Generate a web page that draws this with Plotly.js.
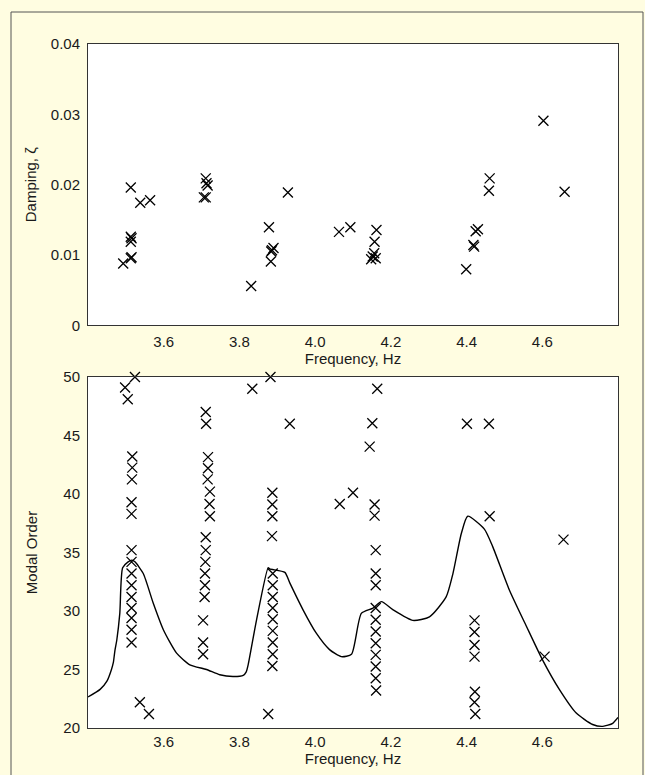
<!DOCTYPE html>
<html>
<head>
<meta charset="utf-8">
<script src="https://cdn.plot.ly/plotly-3.0.1.min.js"></script>
<style>html,body{margin:0;padding:0;background:#FFFDE1;}#chart{width:645px;height:775px;}</style>
</head>
<body>
<div id="chart"></div>
<script>
// Top panel: damping vs frequency
const dampFreq = [3.513, 3.538, 3.564, 3.513, 3.515, 3.513, 3.493, 3.513, 3.515,
  3.711, 3.713, 3.716, 3.706, 3.711, 3.831, 3.878, 3.886, 3.890, 3.884, 3.883,
  3.928, 4.063, 4.093, 4.162, 4.157, 4.152, 4.156, 4.160, 4.148,
  4.399, 4.418, 4.420, 4.430, 4.424, 4.459, 4.461, 4.603, 4.659];
const dampValue = [0.0196, 0.01745, 0.0178, 0.0126, 0.0124, 0.0119, 0.0088, 0.00955, 0.0097,
  0.0209, 0.0202, 0.0199, 0.0182, 0.0182, 0.0056, 0.01395, 0.0107, 0.0110, 0.0105, 0.0091,
  0.0189, 0.0133, 0.01395, 0.01357, 0.0119, 0.0098, 0.01026, 0.00955, 0.0094,
  0.0080, 0.01144, 0.0112, 0.01367, 0.0134, 0.01915, 0.0209, 0.0291, 0.0190];

// Bottom panel: stabilisation diagram (modal order vs frequency)
const orderFreq = [
  3.515, 3.515, 3.515, 3.515, 3.515, 3.515, 3.515, 3.515, 3.515,
  3.517, 3.517, 3.516, 3.515, 3.515,
  3.524, 3.498, 3.505, 3.537, 3.561,
  3.711, 3.712, 3.717, 3.717, 3.716, 3.722, 3.721, 3.722,
  3.711, 3.711, 3.710, 3.709, 3.709, 3.708, 3.704, 3.704, 3.704,
  3.834, 3.882, 3.887, 3.887, 3.887, 3.886,
  3.888, 3.888, 3.888, 3.888, 3.888, 3.888, 3.888, 3.888, 3.887,
  3.876, 3.933, 4.065, 4.100, 4.164, 4.151, 4.144, 4.157, 4.157,
  4.160, 4.160, 4.160, 4.160, 4.160, 4.160, 4.160, 4.160, 4.160, 4.160, 4.161,
  4.401, 4.459, 4.461, 4.656,
  4.421, 4.421, 4.421, 4.421, 4.422, 4.421, 4.423, 4.606];
const orderValue = [
  35.2, 34.2, 33.2, 32.2, 31.2, 30.25, 29.4, 28.4, 27.3,
  43.2, 42.25, 41.25, 39.3, 38.3,
  50.0, 49.1, 48.1, 22.2, 21.2,
  47.0, 46.0, 43.15, 42.2, 41.25, 40.2, 39.15, 38.1,
  36.3, 35.2, 34.2, 33.2, 32.2, 31.2, 29.2, 27.3, 26.3,
  49.0, 50.0, 40.1, 39.1, 38.1, 36.4,
  33.2, 32.2, 31.2, 30.25, 29.3, 28.3, 27.3, 26.3, 25.3,
  21.2, 46.0, 39.15, 40.1, 49.0, 46.05, 44.05, 39.1, 38.15,
  35.2, 33.2, 32.2, 30.25, 29.25, 28.25, 27.25, 26.25, 25.25, 24.25, 23.2,
  46.0, 46.0, 38.1, 36.1,
  29.2, 28.2, 27.1, 26.1, 23.1, 22.2, 21.2, 26.1];

// Spectrum curve overlaid on the bottom panel
const curveFreq = [3.400, 3.432, 3.450, 3.462, 3.467, 3.471, 3.476, 3.484, 3.4915, 3.506, 3.516, 3.524,
  3.546, 3.572, 3.599, 3.634, 3.669, 3.713, 3.748, 3.783, 3.810, 3.818, 3.823, 3.845, 3.876,
  3.880, 3.920, 3.933, 3.968, 4.003, 4.038, 4.069, 4.096, 4.122, 4.153, 4.175,
  4.206, 4.258, 4.302, 4.346, 4.364, 4.386, 4.403, 4.447, 4.469, 4.513, 4.558,
  4.601, 4.645, 4.689, 4.733, 4.760, 4.786, 4.800];
const curveOrder = [22.65, 23.3, 24.0, 25.0, 25.6, 26.6, 27.5, 29.8, 33.7, 34.2, 34.35, 34.2,
  33.2, 30.7, 28.4, 26.4, 25.4, 25.0, 24.55, 24.4, 24.5, 24.8, 25.4, 29.2, 33.7,
  33.6, 33.3, 32.4, 30.1, 28.1, 26.7, 26.1, 26.3, 29.8, 30.25, 30.8,
  30.1, 29.2, 29.5, 31.2, 33.2, 36.6, 38.1, 37.0, 35.5, 31.8, 28.7,
  25.8, 23.3, 21.3, 20.3, 20.14, 20.4, 20.9];

const txt = {family: 'Liberation Sans, Arial, sans-serif', size: 15, color: '#1a1a1a'};
const markerStyle = {symbol: 'x-thin-open', size: 10, color: '#000', line: {width: 1.3, color: '#000'}};

const traces = [
  {x: dampFreq, y: dampValue, type: 'scatter', mode: 'markers', marker: markerStyle, xaxis: 'x', yaxis: 'y', cliponaxis: false},
  {x: curveFreq, y: curveOrder, type: 'scatter', mode: 'lines', line: {color: '#000', width: 1.4, shape: 'spline', smoothing: 0.6}, xaxis: 'x2', yaxis: 'y2'},
  {x: orderFreq, y: orderValue, type: 'scatter', mode: 'markers', marker: markerStyle, xaxis: 'x2', yaxis: 'y2', cliponaxis: false}
];

const axisCommon = {
  showgrid: false, zeroline: false, showline: true, mirror: true,
  linecolor: '#333', linewidth: 1, ticks: 'outside', ticklen: 4,
  tickcolor: 'rgba(0,0,0,0)', tickfont: txt
};

const layout = {
  width: 645, height: 775,
  paper_bgcolor: '#FFFDE1', plot_bgcolor: '#FFFFFF',
  margin: {l: 88, r: 27, t: 44, b: 47},
  showlegend: false,
  font: txt,
  xaxis: Object.assign({}, axisCommon, {
    domain: [0, 1], anchor: 'y', range: [3.4, 4.8], ticklen: 3,
    tickvals: [3.6, 3.8, 4.0, 4.2, 4.4, 4.6], ticktext: ['3.6', '3.8', '4.0', '4.2', '4.4', '4.6'],
    title: {text: 'Frequency, Hz', font: txt, standoff: 4}
  }),
  yaxis: Object.assign({}, axisCommon, {
    domain: [0.5885, 1], anchor: 'x', range: [0, 0.04],
    tickvals: [0, 0.01, 0.02, 0.03, 0.04], ticktext: ['0', '0.01', '0.02', '0.03', '0.04'],
    title: {text: 'Damping, ζ', font: txt, standoff: 10}
  }),
  xaxis2: Object.assign({}, axisCommon, {
    domain: [0, 1], anchor: 'y2', range: [3.4, 4.8], ticklen: 0,
    tickvals: [3.6, 3.8, 4.0, 4.2, 4.4, 4.6], ticktext: ['3.6', '3.8', '4.0', '4.2', '4.4', '4.6'],
    title: {text: 'Frequency, Hz', font: txt, standoff: 2}
  }),
  yaxis2: Object.assign({}, axisCommon, {
    domain: [0, 0.5132], anchor: 'x2', range: [20, 50],
    tickvals: [20, 25, 30, 35, 40, 45, 50],
    title: {text: 'Modal Order', font: txt, standoff: 22}
  }),
  shapes: [
    {type: 'rect', xref: 'paper', yref: 'paper',
     x0: (11 - 88) / 530, x1: (643 - 88) / 530,
     y0: (728 - 790) / 684, y1: (728 - 12) / 684,
     line: {color: '#555', width: 1}, fillcolor: 'rgba(0,0,0,0)', layer: 'below'}
  ]
};

Plotly.newPlot('chart', traces, layout, {displayModeBar: false, staticPlot: true});
</script>
</body>
</html>
